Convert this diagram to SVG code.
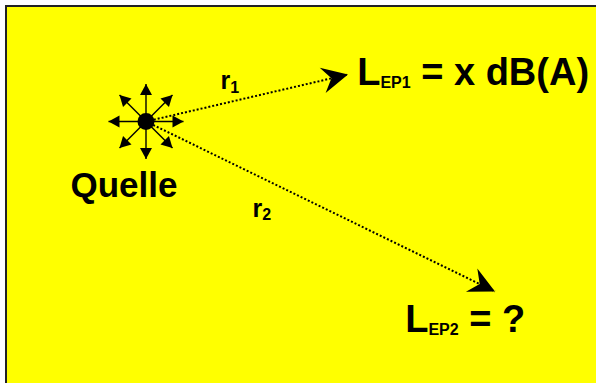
<svg xmlns="http://www.w3.org/2000/svg" width="596" height="383" viewBox="0 0 596 383">
<style>
.t{font-family:"Liberation Sans",Arial,sans-serif;font-weight:bold;fill:#000}
.ray{stroke:#000;stroke-width:1.4;fill:none;marker-end:url(#sm)}
.dot{stroke:#000;stroke-width:2;stroke-dasharray:2 2;fill:none;marker-end:url(#big)}
</style>
<defs>
<marker id="sm" markerUnits="userSpaceOnUse" viewBox="-12 -7 13 14" refX="0" refY="0" markerWidth="13" markerHeight="14" orient="auto">
<path d="M0,0 L-11,-6 L-11,6 Z" fill="#000"/>
</marker>
<marker id="big" markerUnits="userSpaceOnUse" viewBox="-27 -14 28 28" refX="0" refY="0" markerWidth="28" markerHeight="28" orient="auto">
<path d="M0,0 L-26,-13 L-17,0 L-26,13 Z" fill="#000"/>
</marker>
</defs>
<rect x="6" y="6" width="600" height="400" fill="#FFFF00" stroke="#222" stroke-width="2"/>
<g id="connectors">
<line class="dot" x1="146" y1="121.5" x2="348" y2="74.5"/>
<line class="dot" x1="146" y1="121.5" x2="495" y2="291.5"/>
</g>
<g id="quelle">
<g transform="translate(146,121.5)">
<line class="ray" x1="0" y1="0" x2="0" y2="-37.5"/>
<line class="ray" x1="0" y1="0" x2="0" y2="37.5"/>
<line class="ray" x1="0" y1="0" x2="-37.5" y2="0"/>
<line class="ray" x1="0" y1="0" x2="37.5" y2="0"/>
<line class="ray" x1="0" y1="0" x2="26.5" y2="-26.5"/>
<line class="ray" x1="0" y1="0" x2="-26.5" y2="-26.5"/>
<line class="ray" x1="0" y1="0" x2="-26.5" y2="26.5"/>
<line class="ray" x1="0" y1="0" x2="26.5" y2="26.5"/>
<circle cx="0" cy="0" r="8.5" fill="#000"/>
</g>
<text class="t" x="70.5" y="197" font-size="35">Quelle</text>
</g>
<g id="r1"><text class="t" x="220.5" y="89" font-size="25">r<tspan font-size="16" dy="4">1</tspan></text></g>
<g id="r2"><text class="t" x="252.5" y="217" font-size="25">r<tspan font-size="16" dy="3">2</tspan></text></g>
<g id="lep1"><text class="t" x="357.2" y="85" font-size="38">L<tspan font-size="16" dy="3">EP1</tspan><tspan dy="-3"> = x dB(A)</tspan></text></g>
<g id="lep2"><text class="t" x="405.2" y="332" font-size="38">L<tspan font-size="16" dy="3">EP2</tspan><tspan dy="-3"> = ?</tspan></text></g>
</svg>
